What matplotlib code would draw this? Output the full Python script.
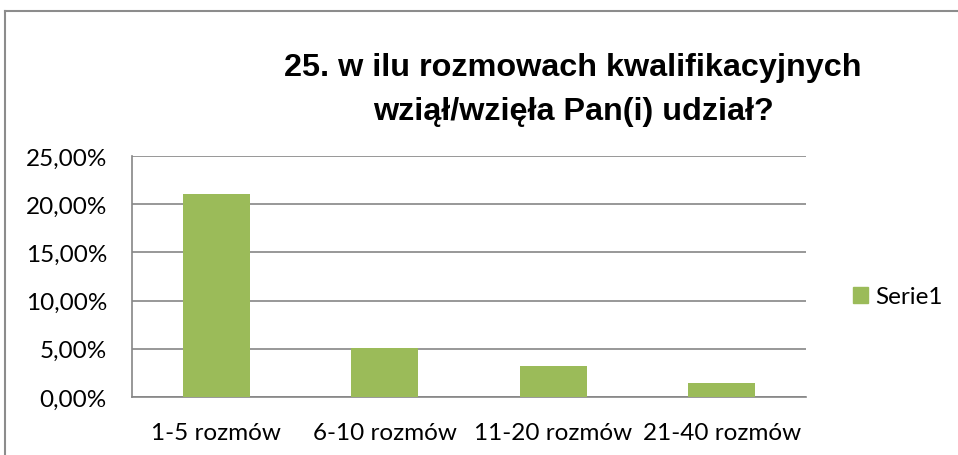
import matplotlib.pyplot as plt
import matplotlib.patches as mpatches
from matplotlib.ticker import FuncFormatter, MultipleLocator

kategorie = ["1-5 rozmów", "6-10 rozmów", "11-20 rozmów", "21-40 rozmów"]
serie1 = [21.05, 5.1, 3.2, 1.5]
tytul = "25. w ilu rozmowach kwalifikacyjnych\nwziął/wzięła Pan(i) udział?"

plt.rcParams['font.family'] = ['Lato', 'DejaVu Sans']

fig = plt.figure(figsize=(9.58, 4.56), dpi=100)
W, H = 958, 456

# ramka wykresu (ucięta z prawej i od dołu)
fig.add_artist(plt.Line2D([5 / W, 5 / W], [0, 1 - 12 / H], color='#8c8c8c', lw=1.5))
fig.add_artist(plt.Line2D([5 / W, 1], [1 - 12 / H, 1 - 12 / H], color='#8c8c8c', lw=1.5))

ax = fig.add_axes([132 / W, 1 - 398 / H, (806 - 132) / W, (398 - 157) / H])
x = range(len(kategorie))
ax.bar(x, serie1, width=0.4, color='#9bbb59', zorder=3)
ax.set_xlim(-0.5, len(kategorie) - 0.5)
ax.set_ylim(0, 25)
ax.yaxis.set_major_locator(MultipleLocator(5))
ax.yaxis.set_major_formatter(FuncFormatter(lambda v, p: f"{v:.2f}%".replace('.', ',')))
ax.set_xticks(list(x))
ax.set_xticklabels(kategorie)
ax.grid(axis='y', color='#868686', lw=1.2, zorder=0)
for s in ['top', 'right']:
    ax.spines[s].set_visible(False)
for s in ['left', 'bottom']:
    ax.spines[s].set_color('#868686')
    ax.spines[s].set_linewidth(1.2)
ax.tick_params(axis='both', length=0, labelsize=17.5, colors='black')
ax.tick_params(axis='y', pad=18)
ax.tick_params(axis='x', pad=18)

# tytuł pogrubiony - dopasowanie szerokości pierwszej linii do ok. 577 px
tfont = ['Liberation Sans', 'DejaVu Sans']
t = fig.text(573 / W, 1 - 90 / H, tytul, ha='center', va='center', fontsize=20,
             family=tfont, fontweight='bold', linespacing=1.6)
r = fig.canvas.get_renderer()
t1 = fig.text(0, 0, tytul.split('\n')[0], fontsize=20, family=tfont, fontweight='bold')
w1 = t1.get_window_extent(r).width
t1.remove()
t.set_fontsize(20 * 577 / w1)

handle = mpatches.Patch(color='#9bbb59', label='Serie1')
fig.legend(handles=[handle], loc='center left', bbox_to_anchor=(853 / W, 1 - 298 / H),
           frameon=False, fontsize=17.5, handlelength=0.6, handleheight=0.6,
           handletextpad=0.3, borderpad=0, borderaxespad=0)

fig.savefig('out.png', dpi=100)
